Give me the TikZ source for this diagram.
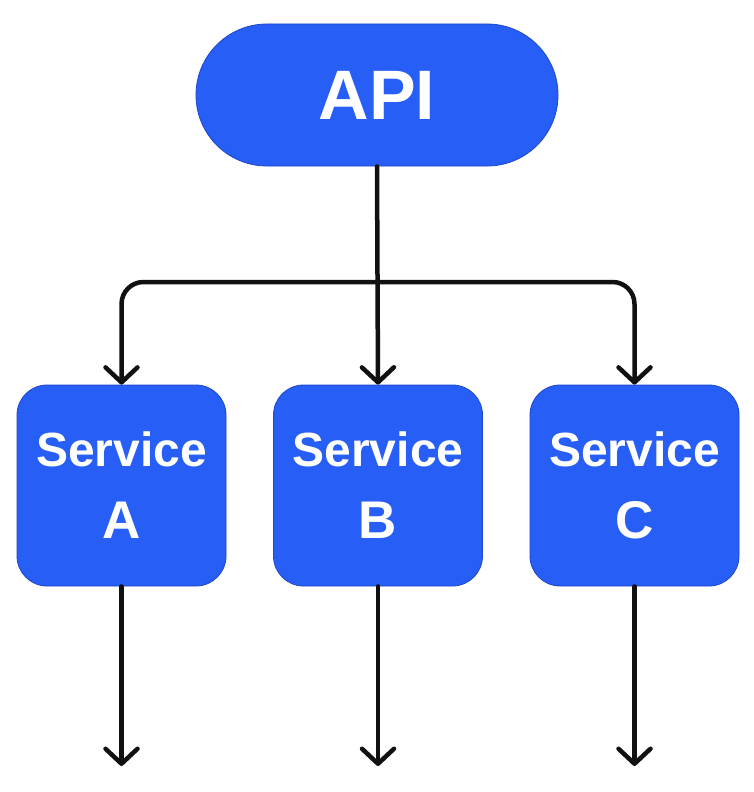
\documentclass[tikz,border=0pt]{standalone}
\usepackage{fontspec}
\setmainfont{Liberation Sans}
\usetikzlibrary{arrows.meta}
\definecolor{boxblue}{RGB}{38,94,246}
\definecolor{boxedge}{RGB}{30,70,200}
\definecolor{linek}{RGB}{17,17,17}
\begin{document}
\begin{tikzpicture}[x=1pt,y=-1pt,
  pill/.style={draw=boxedge, line width=0.8pt, fill=boxblue, rounded corners=71pt,
    minimum width=362pt, minimum height=142pt, text=white, inner sep=0pt,
    font=\fontsize{70}{70}\selectfont\bfseries},
  svc/.style={draw=boxedge, line width=0.8pt, fill=boxblue, rounded corners=30pt,
    minimum width=209pt, minimum height=201pt, text=white, inner sep=0pt, align=center,
    font=\fontsize{48}{72}\selectfont\bfseries},
  conn/.style={draw=linek, line width=4.5pt, line cap=round, line join=round,
    -{Straight Barb[length=15pt,width=32pt,line cap=round,line join=round]}},
]
\useasboundingbox (0,0) rectangle (754,792);
\fill[white] (0,0) rectangle (754,792);
\node[pill] (api) at (377,95) {API};
\node[svc] (A) at (121.5,485.5) {Service\\\fontsize{53}{72}\selectfont A};
\node[svc] (B) at (378,485.5) {Service\\\fontsize{53}{72}\selectfont B};
\node[svc] (C) at (634.5,485.5) {Service\\\fontsize{53}{72}\selectfont C};
\coordinate (j) at (377,282);
\coordinate (ea) at (121.5,766);
\coordinate (eb) at (378,766);
\coordinate (ec) at (634.5,766);
\draw[conn] (api.south) -- (B.north);
\draw[conn, rounded corners=22pt] (j) -| (A.north);
\draw[conn, rounded corners=22pt] (j) -| (C.north);
\draw[conn] (A.south) -- (ea);
\draw[conn] (B.south) -- (eb);
\draw[conn] (C.south) -- (ec);
\end{tikzpicture}
\end{document}
